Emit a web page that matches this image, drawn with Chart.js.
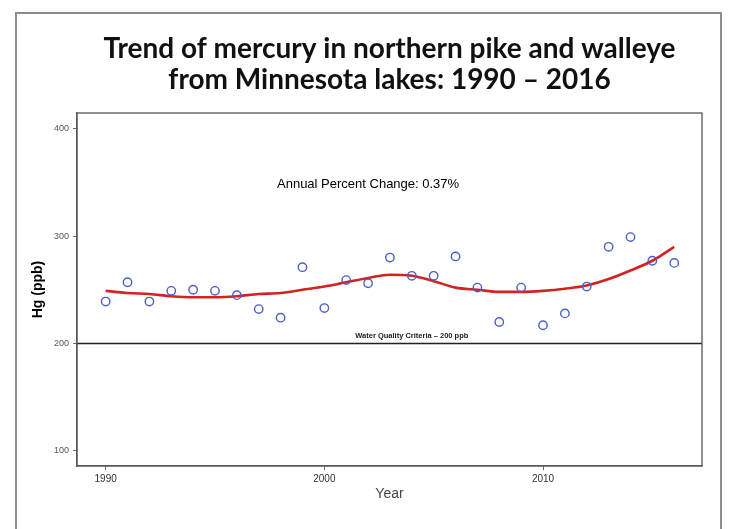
<!DOCTYPE html>
<html>
<head>
<meta charset="utf-8">
<script src="https://cdn.jsdelivr.net/npm/chart.js@4.4.1/dist/chart.umd.min.js"></script>
<style>
  body { margin: 0; background: #fff; }
  #wrap { position: relative; width: 730px; height: 529px; overflow: hidden; }
  #frame { position: absolute; left: 15px; top: 12px; width: 703px; height: 530px; border: 2px solid #8c8c8c; pointer-events: none; }
  canvas { position: absolute; left: 0; top: 0; }
</style>
</head>
<body>
<div id="wrap">
  <canvas id="hgChart" width="730" height="529"></canvas>
  <div id="frame"></div>
</div>
<script>
// Mercury in northern pike and walleye, Minnesota lakes
const years = [1990, 1991, 1992, 1993, 1994, 1995, 1996, 1997, 1998, 1999, 2000, 2001, 2002, 2003,
               2004, 2005, 2006, 2007, 2008, 2009, 2010, 2011, 2012, 2013, 2014, 2015, 2016];
const hgYearly = [239, 257, 239, 249, 250, 249, 245, 232, 224, 271, 233, 259, 256, 280,
                  263, 263, 281, 252, 220, 252, 217, 228, 253, 290, 299, 277, 275];
const hgTrend = [249, 247, 246, 244, 243, 243, 244, 246, 247, 250, 253, 257, 261, 264,
                 263, 258, 252, 250, 248, 248, 249, 251, 254, 260, 268, 277, 290];
const criteriaValue = 200;
const xTicks = [1990, 2000, 2010];
const yTicks = [100, 200, 300, 400];
const xMin = 1988.69, xMax = 2017.27;
const yMin = 86, yMax = 414.5;

const titleLines = ['Trend of mercury in northern pike and walleye', 'from Minnesota lakes: 1990 \u2013 2016'];
const apcText = 'Annual Percent Change: 0.37%';
const criteriaText = 'Water Quality Criteria \u2013 200 ppb';

const toPoints = (vals) => vals.map((v, i) => ({ x: years[i], y: v }));

// frame, title and the two notes
const extras = {
    id: 'extras',
    afterDraw(chart) {
        const { ctx, chartArea: a, scales } = chart;
        ctx.save();
        ctx.strokeStyle = '#555';
        ctx.lineWidth = 1.3;
        ctx.strokeRect(a.left, a.top, a.right - a.left, a.bottom - a.top);

        const cx = (a.left + a.right) / 2;
        ctx.fillStyle = '#111';
        ctx.textAlign = 'center';
        ctx.textBaseline = 'alphabetic';
        ctx.font = 'bold 28px Lato';
        ctx.fillText(titleLines[0], cx, 58);
        ctx.fillText(titleLines[1], cx, 89);

        ctx.textBaseline = 'middle';
        ctx.fillStyle = '#000';
        ctx.font = '13px "Liberation Sans"';
        ctx.fillText(apcText, scales.x.getPixelForValue(2002.0), scales.y.getPixelForValue(348));
        ctx.font = 'bold 7.5px "Liberation Sans"';
        ctx.fillStyle = '#222';
        ctx.fillText(criteriaText, scales.x.getPixelForValue(2004.0), scales.y.getPixelForValue(207));
        ctx.restore();
    }
};

const ctx = document.getElementById('hgChart').getContext('2d');

new Chart(ctx, {
    type: 'scatter',
    data: {
        datasets: [
            {
                label: 'Yearly mean',
                data: toPoints(hgYearly),
                pointStyle: 'circle',
                pointRadius: 4.2,
                pointBorderWidth: 1.4,
                borderColor: '#4b5fc9',
                backgroundColor: 'rgba(0,0,0,0)',
                order: 1
            },
            {
                label: 'Trend',
                type: 'line',
                data: toPoints(hgTrend),
                borderColor: '#d32222',
                borderWidth: 2.6,
                pointRadius: 0,
                cubicInterpolationMode: 'monotone',
                fill: false,
                order: 2
            },
            {
                label: 'Criteria',
                type: 'line',
                data: [{ x: xMin, y: criteriaValue }, { x: xMax, y: criteriaValue }],
                borderColor: '#222',
                borderWidth: 1.5,
                pointRadius: 0,
                fill: false,
                order: 3
            }
        ]
    },
    options: {
        responsive: false,
        animation: false,
        layout: { padding: { left: 0, right: 28, top: 113, bottom: 20 } },
        plugins: {
            legend: { display: false },
            tooltip: { enabled: false }
        },
        scales: {
            x: {
                type: 'linear',
                min: xMin,
                max: xMax,
                afterBuildTicks: (s) => { s.ticks = xTicks.map(v => ({ value: v })); },
                afterFit: (s) => { s.height = 43; },
                grid: { drawOnChartArea: false, drawTicks: true, tickLength: 4, tickColor: '#666' },
                border: { color: '#666', width: 1.3 },
                ticks: {
                    color: '#333',
                    padding: 3,
                    maxRotation: 0,
                    font: { family: 'Liberation Sans', size: 10 },
                    callback: (v) => String(v)
                },
                title: {
                    display: true,
                    text: 'Year',
                    color: '#3d4a44',
                    font: { family: 'Liberation Sans', size: 14 },
                    padding: { top: 0, bottom: 6.6 }
                }
            },
            y: {
                min: yMin,
                max: yMax,
                afterBuildTicks: (s) => { s.ticks = yTicks.map(v => ({ value: v })); },
                afterFit: (s) => { s.width = 77; },
                grid: { drawOnChartArea: false, drawTicks: true, tickLength: 4, tickColor: '#666' },
                border: { color: '#666', width: 1.3 },
                ticks: {
                    color: '#555',
                    padding: 4,
                    font: { family: 'Liberation Sans', size: 9 },
                    callback: (v) => String(v)
                },
                title: {
                    display: true,
                    text: 'Hg (ppb)',
                    color: '#000',
                    font: { family: 'Liberation Sans', size: 14, weight: 'bold' },
                    padding: { top: 30, bottom: 0 }
                }
            }
        }
    },
    plugins: [extras]
});
</script>
</body>
</html>
